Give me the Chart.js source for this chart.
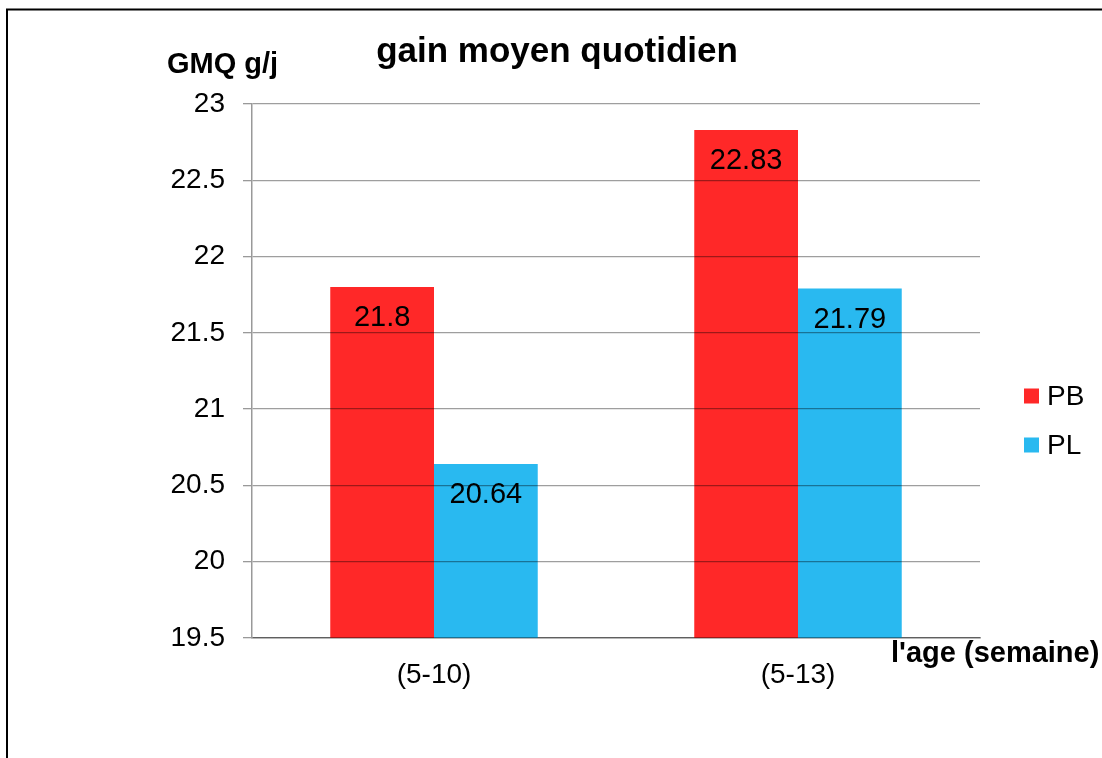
<!DOCTYPE html>
<html lang="fr">
<head>
<meta charset="utf-8">
<title>gain moyen quotidien</title>
<script src="https://cdn.jsdelivr.net/npm/chart.js@4/dist/chart.umd.min.js"></script>
<style>
  html, body { margin: 0; padding: 0; background: #fff; overflow: hidden; }
  #wrap { position: relative; width: 1102px; height: 758px; }
</style>
</head>
<body>
<div id="wrap"><canvas id="gmq"></canvas></div>
<script>
// ---- data ----------------------------------------------------------
const AGES = ['(5-10)', '(5-13)'];
const PB = [21.8, 22.83];
const PL = [20.64, 21.79];
const Y_MIN = 19.5, Y_MAX = 23, Y_STEP = 0.5;

const FONT = '"Liberation Sans", Arial, sans-serif';
const RED = 'rgb(255,40,40)';
const BLUE = 'rgb(41,185,240)';
const GRID = 'rgba(0,0,0,0.38)';

// value printed inside each bar, a bit below its top
const barValues = {
  id: 'barValues',
  afterDatasetsDraw(chart) {
    const ctx = chart.ctx;
    ctx.save();
    ctx.font = '29px ' + FONT;
    ctx.fillStyle = '#000';
    ctx.textAlign = 'center';
    ctx.textBaseline = 'middle';
    chart.data.datasets.forEach((ds, i) => {
      chart.getDatasetMeta(i).data.forEach((bar, j) => {
        ctx.fillText(String(ds.data[j]), bar.x, bar.y + 31);
      });
    });
    ctx.restore();
  }
};

// frame, title, axis names and the legend on the right
const decorations = {
  id: 'decorations',
  beforeDraw(chart) {
    const ctx = chart.ctx;
    ctx.save();
    ctx.strokeStyle = '#000';
    ctx.lineWidth = 2;
    ctx.beginPath();
    ctx.moveTo(7, chart.height);
    ctx.lineTo(7, 9.5);
    ctx.lineTo(chart.width, 9.5);
    ctx.stroke();
    ctx.restore();
  },
  afterDraw(chart) {
    const ctx = chart.ctx;
    ctx.save();
    ctx.fillStyle = '#000';
    ctx.textBaseline = 'alphabetic';

    ctx.font = 'bold 35px ' + FONT;
    ctx.textAlign = 'center';
    ctx.fillText('gain moyen quotidien', 557, 62);

    ctx.font = 'bold 29px ' + FONT;
    ctx.textAlign = 'left';
    ctx.fillText('GMQ g/j', 167, 73);
    ctx.fillText("l'age (semaine)", 891, 662);

    ctx.font = '28px ' + FONT;
    ctx.textBaseline = 'middle';
    chart.data.datasets.forEach((ds, i) => {
      const y = 396 + i * 49;
      ctx.fillStyle = ds.backgroundColor;
      ctx.fillRect(1024, y - 7.5, 15, 15);
      ctx.fillStyle = '#000';
      ctx.fillText(ds.label, 1047, y + 1);
    });
    ctx.restore();
  }
};

new Chart(document.getElementById('gmq'), {
  type: 'bar',
  data: {
    labels: AGES,
    datasets: [
      { label: 'PB', data: PB, backgroundColor: RED },
      { label: 'PL', data: PL, backgroundColor: BLUE }
    ]
  },
  options: {
    responsive: true, maintainAspectRatio: false, animation: false,
    categoryPercentage: 0.57, barPercentage: 1.0,
    layout: { padding: { top: 104, right: 122, left: 0, bottom: 0 } },
    plugins: { legend: { display: false }, tooltip: { enabled: false } },
    scales: {
      x: {
        z: 1,
        grid: { drawOnChartArea: false, drawTicks: false, tickLength: 0 },
        border: { color: '#999', width: 1.5 },
        ticks: { color: '#000', font: { family: FONT, size: 28 }, padding: 20 },
        afterFit: s => { s.height = 120; }
      },
      y: {
        z: 1,
        min: Y_MIN, max: Y_MAX,
        // grid over the bars; border after the grid so its position is known
        grid: { color: GRID, lineWidth: 1.3, tickLength: 9, tickColor: '#999', z: 1 },
        border: { color: '#999', width: 1.5, z: 2 },
        ticks: {
          stepSize: Y_STEP, color: '#000', padding: 18,
          font: { family: FONT, size: 28 },
          callback: v => String(v)
        },
        afterFit: s => { s.width = 252; }
      }
    }
  },
  plugins: [decorations, barValues]
});
</script>
</body>
</html>
